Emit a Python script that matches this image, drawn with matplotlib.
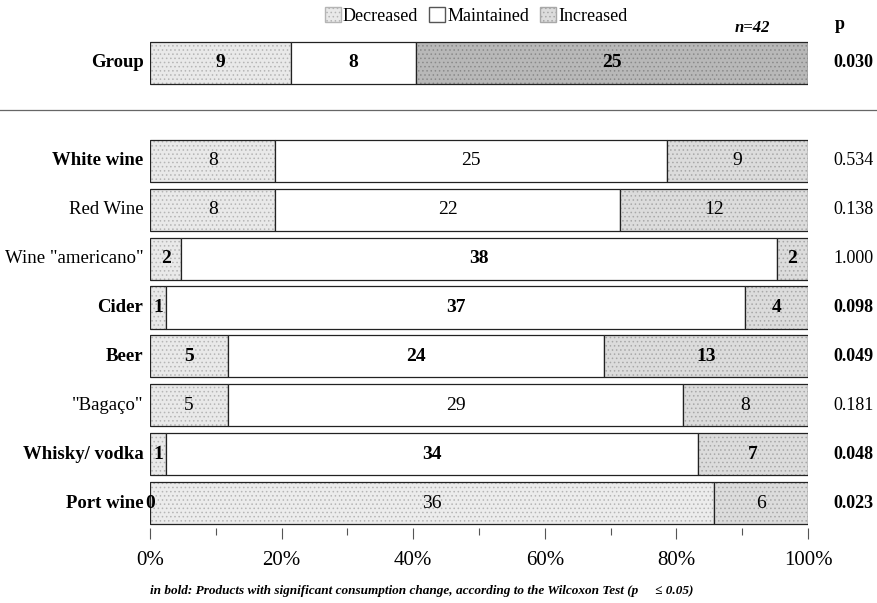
import matplotlib
matplotlib.use("Agg")
import matplotlib.pyplot as plt
from matplotlib.patches import Patch
from matplotlib.lines import Line2D
import numpy as np

plt.rcParams['font.family'] = ['Liberation Serif', 'DejaVu Serif']
plt.rcParams['hatch.linewidth'] = 0.6

categories = ["Group", "White wine", "Red Wine", 'Wine "americano"', "Cider",
              "Beer", '"Bagaço"', "Whisky/ vodka", "Port wine"]
decreased = [9, 8, 8, 2, 1, 5, 5, 1, 0]
maintained = [8, 25, 22, 38, 37, 24, 29, 34, 36]
increased = [25, 9, 12, 2, 4, 13, 8, 7, 6]
p_values = ["0.030", "0.534", "0.138", "1.000", "0.098", "0.049", "0.181", "0.048", "0.023"]
bold_rows = [True, True, False, False, True, True, False, True, True]
bold_p = [True, False, False, False, True, True, False, True, True]
bold_numbers = [True, False, False, True, True, True, False, True, False]
n_total = 42
series_names = ["Decreased", "Maintained", "Increased"]
x_ticks = [0, 20, 40, 60, 80, 100]
x_tick_labels = ["0%", "20%", "40%", "60%", "80%", "100%"]

fig = plt.figure(figsize=(8.77, 6.03), dpi=100)
ax = fig.add_axes([150/877, 0.125, (808-150)/877, 0.8355])

ypos = [9, 7, 6, 5, 4, 3, 2, 1, 0]
height = 0.86
dec_style = dict(facecolor="#e9e9e9", hatch="....", edgecolor="#b5b5b5")
mai_style = dict(facecolor="white", hatch=None, edgecolor="#333333")
inc_style = dict(facecolor="#dcdcdc", hatch="....", edgecolor="#a8a8a8")

for i, cat in enumerate(categories):
    y = ypos[i]
    vals = [decreased[i], maintained[i], increased[i]]
    pct = [100.0 * v / n_total for v in vals]
    left = 0.0
    styles = [dec_style, mai_style, inc_style]
    for k, (v, w) in enumerate(zip(vals, pct)):
        st = dict(styles[k])
        if cat == "Port wine" and k == 1:
            st = dict(facecolor="#ececec", hatch="....", edgecolor="#b5b5b5")
        if cat == "Group" and k == 2:
            st = dict(facecolor="#b8b8b8", hatch="....", edgecolor="#8a8a8a")
        ax.barh(y, w, left=left, height=height, color=st["facecolor"],
                hatch=st["hatch"], edgecolor=st["edgecolor"], linewidth=0)
        ax.barh(y, w, left=left, height=height, fill=False,
                edgecolor="#222222", linewidth=0.9)
        cx = left + w / 2
        weight = "bold" if (bold_numbers[i] or v == 0) else "normal"
        ax.text(cx, y, str(v), ha="center", va="center", fontsize=14,
                fontweight=weight, color="black")
        left += w
    ax.text(-1.0, y, cat, ha="right", va="center", fontsize=13.5,
            fontweight="bold" if bold_rows[i] else "normal")
    ax.text(103.8, y, p_values[i], ha="left", va="center", fontsize=13,
            fontweight="bold" if bold_p[i] else "normal")

ax.text(91.5, 9.72, "n=" + str(n_total), ha="center", va="center", fontsize=12,
        fontweight="bold", style="italic")
ax.text(104.8, 9.78, "p", ha="center", va="center", fontsize=13, fontweight="bold")

ax.set_xlim(0, 100)
ax.set_ylim(-0.5, 9.8)
ax.set_xticks(x_ticks)
ax.set_xticklabels(x_tick_labels, fontsize=15)
ax.set_xticks(np.arange(10, 100, 20), minor=True)
ax.tick_params(axis="x", which="major", length=8, width=0.8, color="#555555", pad=9)
ax.tick_params(axis="x", which="minor", length=5, width=0.8, color="#555555")
ax.set_yticks([])
for s in ax.spines.values():
    s.set_visible(False)
ax.patch.set_alpha(0)

# separator line
fig.add_artist(Line2D([0.0, 1.0], [1 - 110/603, 1 - 110/603], color="#666666",
                      linewidth=0.9, transform=fig.transFigure))

handles = [Patch(facecolor="#e9e9e9", hatch="....", edgecolor="#b5b5b5", label=series_names[0]),
           Patch(facecolor="white", edgecolor="#555555", label=series_names[1]),
           Patch(facecolor="#dcdcdc", hatch="....", edgecolor="#a8a8a8", label=series_names[2])]
fig.legend(handles=handles, loc="center", bbox_to_anchor=(476/877, 1 - 16/603), ncol=3,
           frameon=False, fontsize=13, handlelength=0.9, handleheight=0.9,
           handletextpad=0.1, columnspacing=0.6, borderaxespad=0)

fig.text(150/877, 1 - 591/603,
         "in bold: Products with significant consumption change, according to the Wilcoxon Test (p     \u2264 0.05)",
         ha="left", va="center", fontsize=9.5, style="italic", fontweight="bold")

fig.savefig("out.png", dpi=100)
